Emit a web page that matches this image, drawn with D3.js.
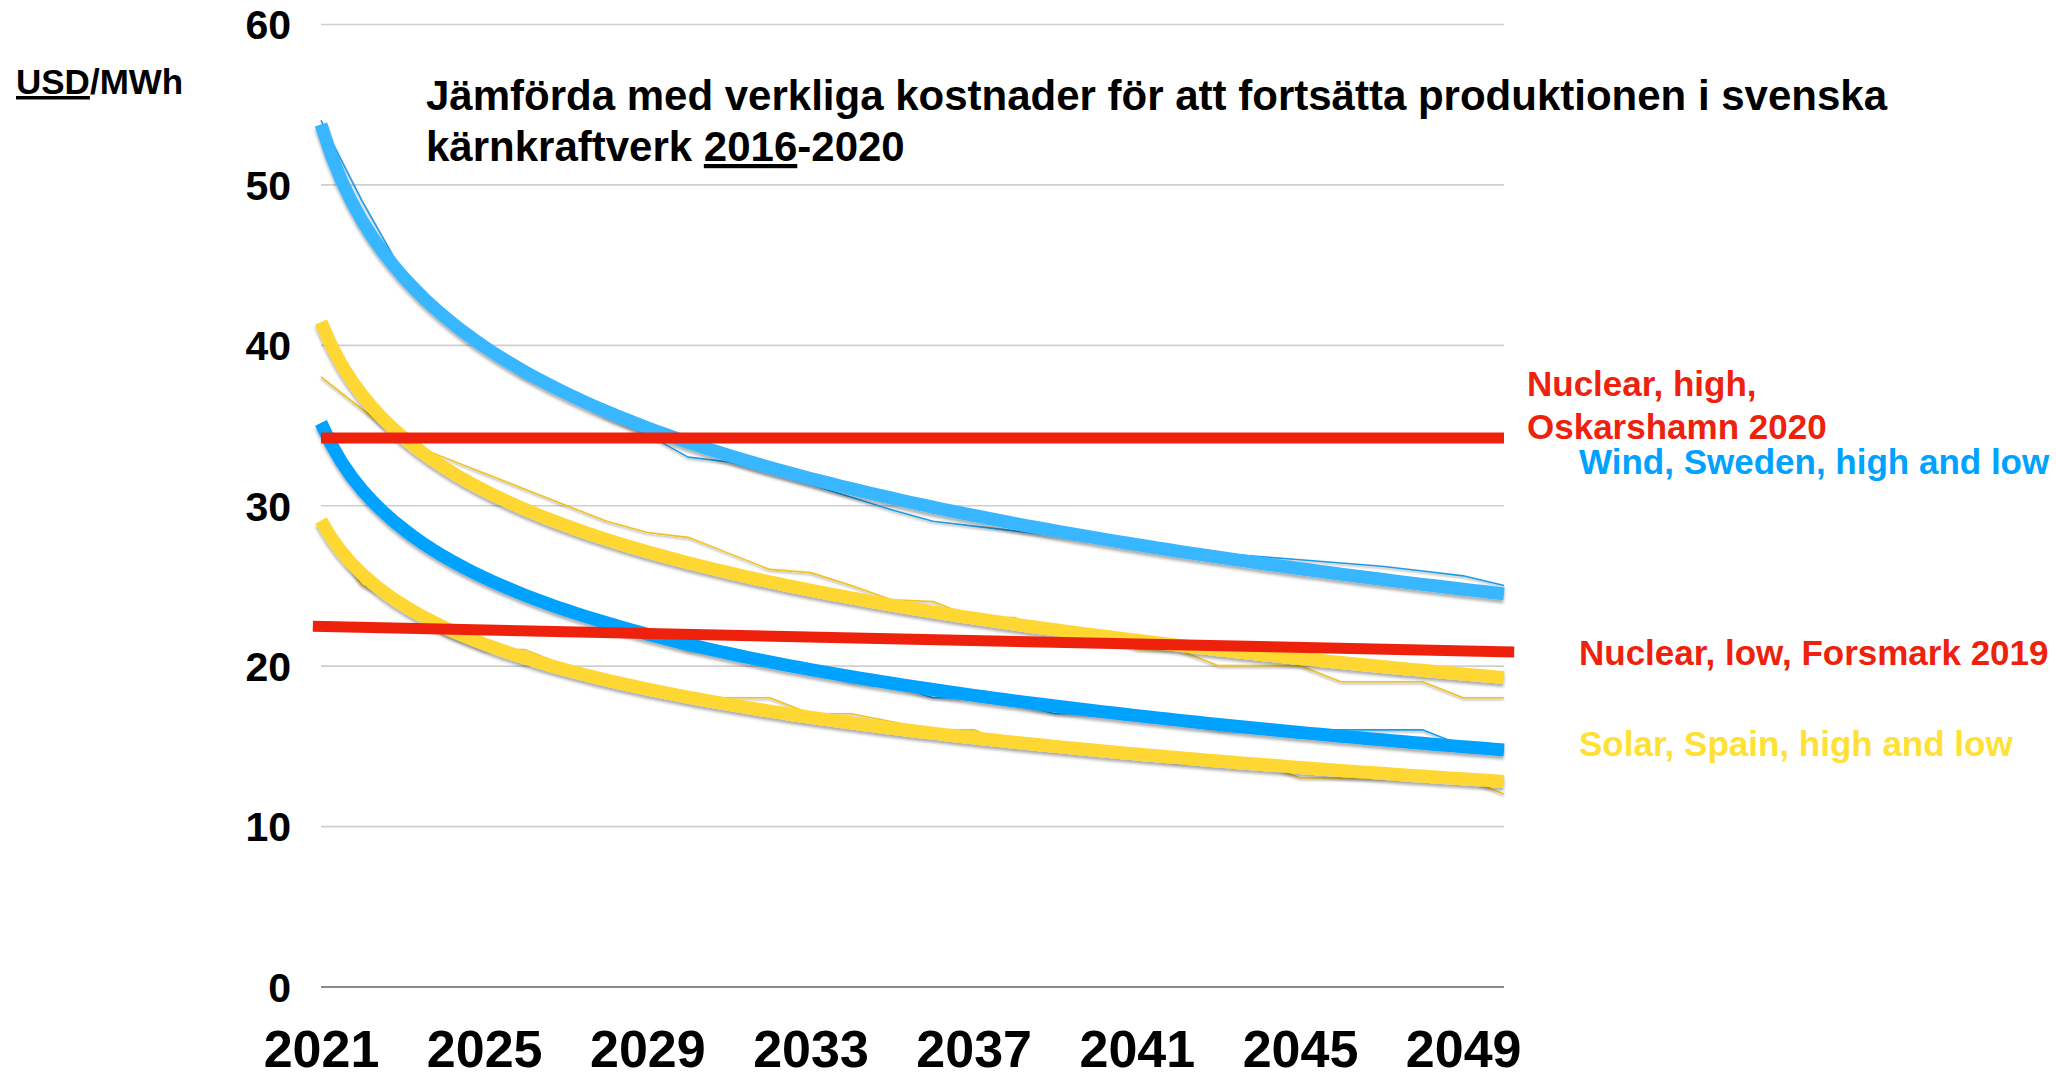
<!DOCTYPE html>
<html>
<head>
<meta charset="utf-8">
<script src="https://cdn.jsdelivr.net/npm/d3@7"></script>
<style>
  html, body { margin: 0; padding: 0; background: #ffffff; }
  svg { display: block; font-family: "Liberation Sans", Arial, Helvetica, sans-serif; font-weight: bold; }
</style>
</head>
<body>
<svg id="chart" width="2056" height="1080"></svg>
<script>
// Levelized cost, USD/MWh, per year
const years = [2021, 2022, 2023, 2024, 2025, 2026, 2027, 2028, 2029, 2030,
               2031, 2032, 2033, 2034, 2035, 2036, 2037, 2038, 2039, 2040,
               2041, 2042, 2043, 2044, 2045, 2046, 2047, 2048, 2049, 2050];

const windHigh  = [54, 49, 44.5, 42, 40, 38, 37, 35.5, 34.4, 33,
                   32.7, 32, 31.3, 30.5, 29.7, 29, 28.7, 28.4, 28.1, 27.8,
                   27.5, 27.2, 27, 26.8, 26.6, 26.4, 26.2, 25.9, 25.6, 25];
const windLow   = [35, 31, 29, 27, 25.5, 24.5, 23.5, 22.7, 22, 21,
                   20.8, 20.3, 19.8, 19, 18.8, 18, 18, 17.6, 17, 17,
                   16.8, 16.5, 16, 16, 16, 16, 16, 16, 15, 14.7];
const solarHigh = [38, 36, 34, 33, 32, 31, 30, 29, 28.3, 28,
                   27, 26, 25.8, 25, 24.1, 24, 23, 23, 22, 22,
                   21, 21, 20, 20, 20, 19, 19, 19, 18, 18];
const solarLow  = [29, 25, 24, 22, 21, 21, 20, 19, 18.5, 18,
                   18, 18, 17, 17, 16.5, 16, 16, 15, 15, 15,
                   14.5, 14, 14, 14, 13, 13, 13, 13, 13, 12];

// Actual cost of continued operation of Swedish reactors
const nuclearHighYears = [2021, 2050];
const nuclearHigh      = [34.2, 34.2];   // Oskarshamn 2020
const nuclearLowYears  = [2020.8, 2050.25];
const nuclearLow       = [22.45, 20.85]; // Forsmark 2019

const yTicks = [0, 10, 20, 30, 40, 50, 60];
const xTicks = [2021, 2025, 2029, 2033, 2037, 2041, 2045, 2049];

const titleLines = ["Jämförda med verkliga kostnader för att fortsätta produktionen i svenska",
                    "kärnkraftverk "];

const svg = d3.select("#chart");

const x = d3.scaleLinear().domain([2021, 2050]).range([321, 1504]);
const y = d3.scaleLinear().domain([0, 60]).range([986.5, 24]);

// soft shadow under the wide trend curves
const defs = svg.append("defs");
const f = defs.append("filter").attr("id", "shadow")
  .attr("x", "-5%").attr("y", "-20%").attr("width", "110%").attr("height", "140%");
f.append("feDropShadow").attr("dx", 0).attr("dy", 3).attr("stdDeviation", 1.6)
  .attr("flood-color", "#000").attr("flood-opacity", 0.32);
const f2 = defs.append("filter").attr("id", "thinshadow")
  .attr("x", "-5%").attr("y", "-20%").attr("width", "110%").attr("height", "140%");
f2.append("feDropShadow").attr("dx", 0).attr("dy", 1.5).attr("stdDeviation", 0.8)
  .attr("flood-color", "#000").attr("flood-opacity", 0.35);

// y axis with gridlines
const yAxis = svg.append("g")
  .attr("transform", `translate(${x.range()[0]},0)`)
  .call(d3.axisLeft(y).tickValues(yTicks).tickSize(-(x.range()[1] - x.range()[0])).tickPadding(30));
yAxis.select(".domain").remove();
yAxis.selectAll(".tick line")
  .attr("stroke", d => d === 0 ? "#8a8a8a" : "#cfcfcf")
  .attr("stroke-width", d => d === 0 ? 2 : 1.6);
yAxis.selectAll(".tick text")
  .attr("fill", "#000").attr("font-size", 41).attr("font-weight", "bold")
  .attr("font-family", "'Liberation Sans', Arial, sans-serif")
  .attr("dy", "0.36em");

// x axis labels
const xAxis = svg.append("g")
  .attr("transform", "translate(0,1067)")
  .call(d3.axisBottom(x).tickValues(xTicks).tickFormat(d3.format("d")).tickSize(0));
xAxis.select(".domain").remove();
xAxis.selectAll(".tick text")
  .attr("y", 0).attr("dy", 0)
  .attr("fill", "#000").attr("font-size", 52).attr("font-weight", "bold")
  .attr("font-family", "'Liberation Sans', Arial, sans-serif");

// logarithmic least-squares trend, x = 1..n
function logFit(vals) {
  const lx = vals.map((_, i) => Math.log(i + 1));
  const mx = d3.mean(lx), my = d3.mean(vals);
  let sxy = 0, sxx = 0;
  vals.forEach((v, i) => { sxy += (lx[i] - mx) * (v - my); sxx += (lx[i] - mx) ** 2; });
  const b = sxy / sxx;
  return { a: my - b * mx, b };
}

const series = [
  { values: solarLow,  thin: "#f2c21b", trend: "#fed733" },
  { values: windLow,   thin: "#0a9ff5", trend: "#00a2ff" },
  { values: solarHigh, thin: "#f2c21b", trend: "#fed733" },
  { values: windHigh,  thin: "#1f9be8", trend: "#38b6ff" }
];

const line = d3.line().x(d => x(d[0])).y(d => y(d[1]));

// data lines
svg.append("g").selectAll("path").data(series).join("path")
  .attr("d", s => line(s.values.map((v, i) => [years[i], v])))
  .attr("fill", "none").attr("stroke", s => s.thin).attr("stroke-width", 1.6)
  .attr("stroke-linejoin", "round")
  .attr("filter", "url(#thinshadow)");

// trend curves
const steps = d3.range(0, years.length - 1 + 1e-9, 0.25);
svg.append("g").selectAll("path").data(series).join("path")
  .attr("d", s => {
    const fit = logFit(s.values);
    return line(steps.map(t => [years[0] + t, fit.a + fit.b * Math.log(t + 1)]));
  })
  .attr("fill", "none").attr("stroke", s => s.trend).attr("stroke-width", 13)
  .attr("stroke-linecap", "butt").attr("stroke-linejoin", "round")
  .attr("filter", "url(#shadow)");

// nuclear reference lines
const nuclear = [
  nuclearHighYears.map((yr, i) => [yr, nuclearHigh[i]]),
  nuclearLowYears.map((yr, i) => [yr, nuclearLow[i]])
];
svg.append("g").selectAll("path").data(nuclear).join("path")
  .attr("d", line)
  .attr("fill", "none").attr("stroke", "#ee220c").attr("stroke-width", 11)
  .attr("stroke-linecap", "butt");

// unit label
const unit = svg.append("text").attr("x", 16).attr("y", 94)
  .attr("font-size", 35).attr("fill", "#000");
unit.append("tspan").attr("text-decoration", "underline").text("USD");
unit.append("tspan").text("/MWh");

// heading
svg.append("text").attr("x", 426).attr("y", 110)
  .attr("font-size", 42).attr("fill", "#000").text(titleLines[0]);
const t2 = svg.append("text").attr("x", 426).attr("y", 161)
  .attr("font-size", 42).attr("fill", "#000");
t2.append("tspan").text(titleLines[1]);
t2.append("tspan").attr("text-decoration", "underline").text("2016");
t2.append("tspan").text("-2020");

// series labels
const labels = [
  { text: "Nuclear, high,",              color: "#ee220c", x: 1527, y: 396 },
  { text: "Oskarshamn 2020",             color: "#ee220c", x: 1527, y: 439 },
  { text: "Wind, Sweden, high and low",  color: "#00a2ff", x: 1579, y: 474 },
  { text: "Nuclear, low, Forsmark 2019", color: "#ee220c", x: 1579, y: 665 },
  { text: "Solar, Spain, high and low",  color: "#ffe135", x: 1579, y: 756 }
];
svg.append("g").selectAll("text").data(labels).join("text")
  .attr("x", d => d.x).attr("y", d => d.y)
  .attr("font-size", 35).attr("fill", d => d.color)
  .text(d => d.text);
</script>
</body>
</html>
